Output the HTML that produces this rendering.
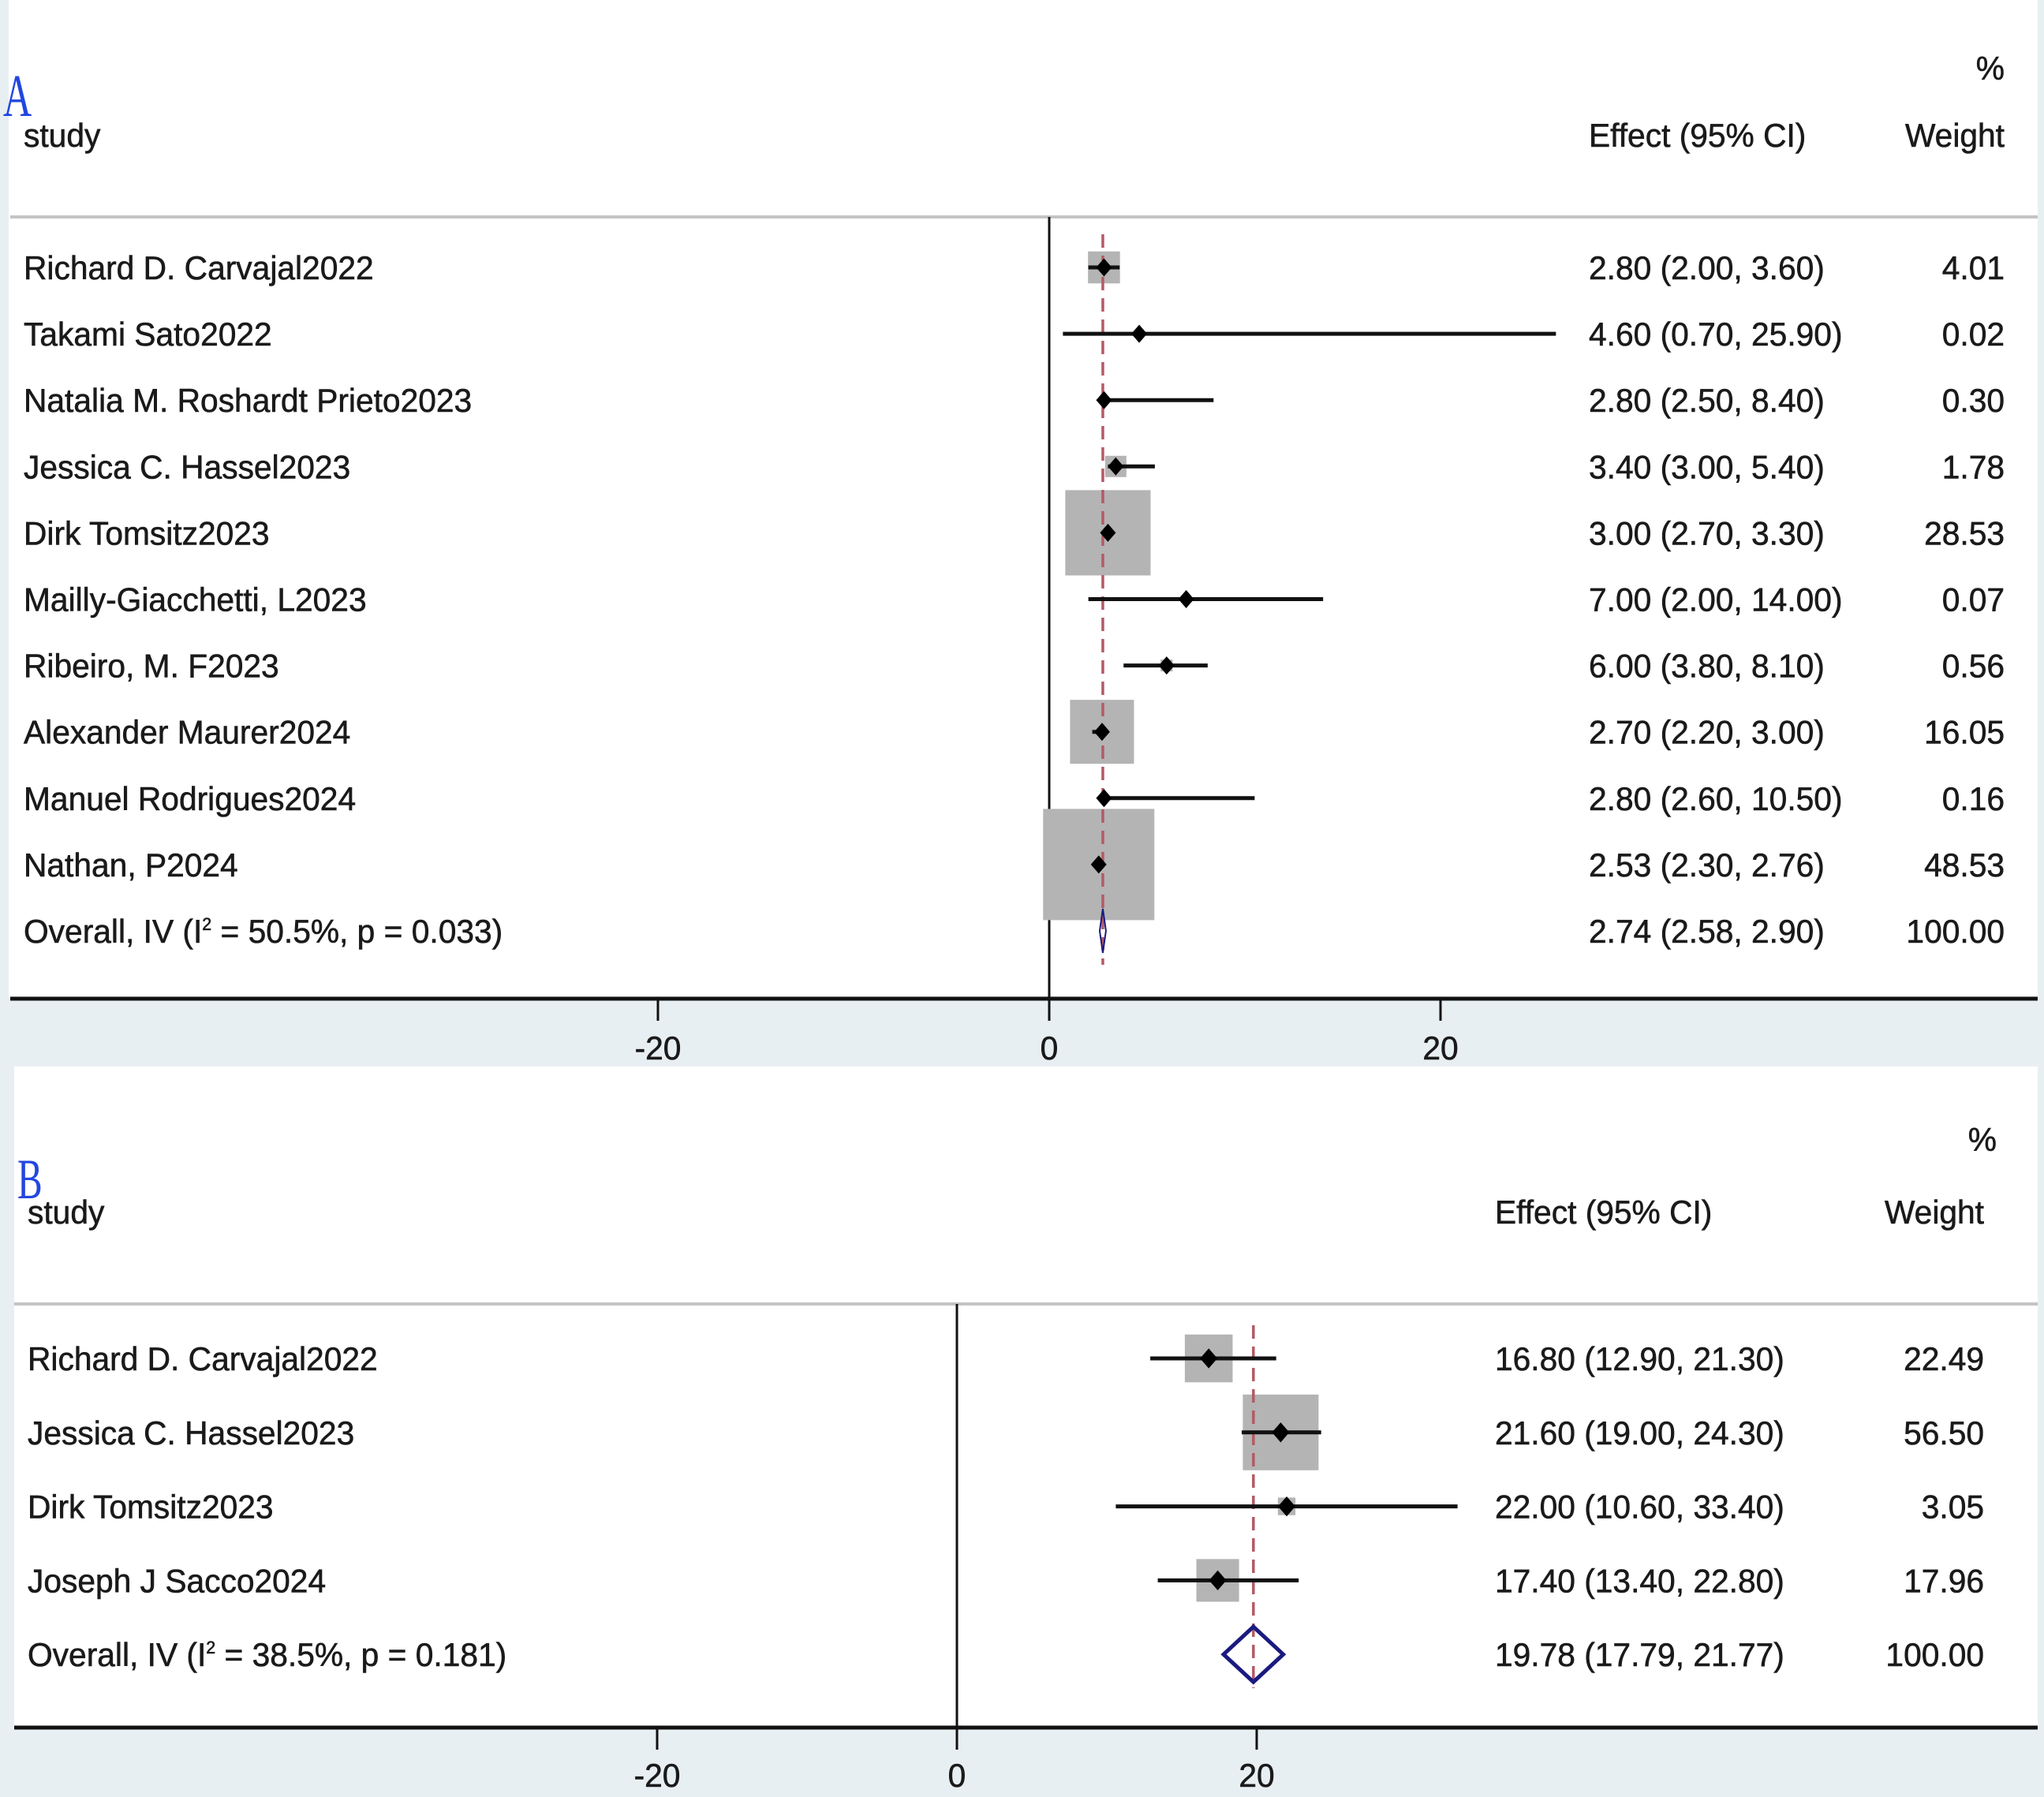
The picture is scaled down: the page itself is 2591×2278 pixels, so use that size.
<!DOCTYPE html>
<html><head><meta charset="utf-8">
<style>
html,body{margin:0;padding:0;background:#e8eff2;}
svg{display:block;}
text{font-family:"Liberation Sans",Arial,sans-serif;fill:#1a1a1a;}
</style></head>
<body>
<svg id="chart" width="2591" height="2278" viewBox="0 0 2591 2278" xmlns="http://www.w3.org/2000/svg">
<rect x="0" y="0" width="2591" height="2278" fill="#e8eff2"/>
<rect x="11" y="0" width="2572" height="1265" fill="#ffffff"/>
<rect x="18" y="1352" width="2565" height="837" fill="#ffffff"/>
<g id="gA"></g>
<g id="gB"></g>
</svg>
<script>
// ---- Panel A data ----
const studiesA = ["Richard D. Carvajal2022","Takami Sato2022","Natalia M. Roshardt Prieto2023","Jessica C. Hassel2023","Dirk Tomsitz2023","Mailly-Giacchetti, L2023","Ribeiro, M. F2023","Alexander Maurer2024","Manuel Rodrigues2024","Nathan, P2024"];
const effectA = [2.80,4.60,2.80,3.40,3.00,7.00,6.00,2.70,2.80,2.53];
const lowerA = [2.00,0.70,2.50,3.00,2.70,2.00,3.80,2.20,2.60,2.30];
const upperA = [3.60,25.90,8.40,5.40,3.30,14.00,8.10,3.00,10.50,2.76];
const weightA = [4.01,0.02,0.30,1.78,28.53,0.07,0.56,16.05,0.16,48.53];
const overallA = [2.74,2.58,2.90];
const overallLabelA = "Overall, IV (I² = 50.5%, p = 0.033)";
const ticksA = [-20,0,20];
// ---- Panel B data ----
const studiesB = ["Richard D. Carvajal2022","Jessica C. Hassel2023","Dirk Tomsitz2023","Joseph J Sacco2024"];
const effectB = [16.80,21.60,22.00,17.40];
const lowerB = [12.90,19.00,10.60,13.40];
const upperB = [21.30,24.30,33.40,22.80];
const weightB = [22.49,56.50,3.05,17.96];
const overallB = [19.78,17.79,21.77];
const overallLabelB = "Overall, IV (I² = 38.5%, p = 0.181)";
const ticksB = [-20,0,20];

const NS="http://www.w3.org/2000/svg";
function mk(parent,tag,attrs){const e=document.createElementNS(NS,tag);for(const k in attrs)e.setAttribute(k,attrs[k]);parent.appendChild(e);return e;}
function txt(parent,x,y,s,anchor,name,size){
  const t=mk(parent,"text",{x:0,y:0,"font-size":size||42,"text-anchor":anchor||"start",transform:`translate(${x},${y}) scale(0.97,1)`,stroke:"#1a1a1a","stroke-width":0.6});
  t.textContent=s;
  
  
  return t;
}
const f2=v=>v.toFixed(2);

function panel(g,cfg){
  const sx=v=>cfg.x0+v*cfg.ppu;
  const L=mk(g,"text",{x:0,y:0,"font-size":cfg.letterSize,transform:`translate(${cfg.letterX},${cfg.letterY}) scale(0.66,1)`,style:"font-family:'Liberation Serif',serif;fill:#2346e0"});
  L.textContent=cfg.letter;
  
  
  txt(g,cfg.leftX,cfg.headY,"study","start","study-header");
  txt(g,cfg.effX,cfg.headY,"Effect (95% CI)","start","effect-header");
  txt(g,cfg.wRight,cfg.headY,"Weight","end","weight-header");
  txt(g,cfg.pctRight,cfg.pctY,"%","end","percent-header");
  const hl=mk(g,"line",{x1:cfg.panelL,x2:cfg.panelR,y1:cfg.headLine,y2:cfg.headLine,stroke:"#c4c4c4","stroke-width":4});
  
  
  const zl=mk(g,"line",{x1:sx(0),x2:sx(0),y1:cfg.headLine,y2:cfg.axisY,stroke:"#111","stroke-width":3});
  
  
  const n=cfg.studies.length;
  for(let i=0;i<n;i++){
    const y=cfg.row0+i*cfg.step;
    const side=cfg.boxRef*Math.sqrt(cfg.w[i]/cfg.wRef);
    const b=mk(g,"rect",{x:sx(cfg.e[i])-side/2,y:y-side/2,width:side,height:side,fill:"#b4b4b4"});
    
    
  }
  const dl=mk(g,"line",{x1:sx(cfg.ov[0]),x2:sx(cfg.ov[0]),y1:cfg.dashTop,y2:cfg.dashBot,stroke:"#b35a64","stroke-width":3.5,"stroke-dasharray":"17 10"});
  
  
  for(let i=0;i<n;i++){
    const y=cfg.row0+i*cfg.step;
    const ci=mk(g,"line",{x1:sx(cfg.lo[i]),x2:sx(cfg.hi[i]),y1:y,y2:y,stroke:"#111","stroke-width":5});
    
    
    const cx=sx(cfg.e[i]),d=cfg.mk;
    const p=mk(g,"polygon",{points:`${cx-d},${y} ${cx},${y-d*1.15} ${cx+d},${y} ${cx},${y+d*1.15}`,fill:"#000"});
    
    
    txt(g,cfg.leftX,y+15,cfg.studies[i],"start","study-label");
    txt(g,cfg.effX,y+15,`${f2(cfg.e[i])} (${f2(cfg.lo[i])}, ${f2(cfg.hi[i])})`,"start","effect-ci-text");
    txt(g,cfg.wRight,y+15,f2(cfg.w[i]),"end","weight-text");
  }
  const oy=cfg.row0+n*cfg.step;
  const dh=cfg.diaH/2;
  const dia=mk(g,"polygon",{points:`${sx(cfg.ov[1])},${oy} ${sx(cfg.ov[0])},${oy-dh} ${sx(cfg.ov[2])},${oy} ${sx(cfg.ov[0])},${oy+dh}`,fill:"none",stroke:"#1a1a80","stroke-width":cfg.diaStroke});
  
  
  const ol=txt(g,cfg.leftX,oy+15,"","start","overall-label");
  const parts=cfg.ovLabel.split("²");
  const t1=mk(ol,"tspan",{});t1.textContent=parts[0];
  const t2=mk(ol,"tspan",{dy:-16,"font-size":22});t2.textContent="2";
  const t3=mk(ol,"tspan",{dy:16});t3.textContent=parts[1];
  txt(g,cfg.effX,oy+15,`${f2(cfg.ov[0])} (${f2(cfg.ov[1])}, ${f2(cfg.ov[2])})`,"start","overall-effect-text");
  txt(g,cfg.wRight,oy+15,"100.00","end","overall-weight-text");
  const ax=mk(g,"line",{x1:cfg.panelL,x2:cfg.panelR,y1:cfg.axisY,y2:cfg.axisY,stroke:"#111","stroke-width":5});
  
  
  cfg.ticks.forEach(t=>{
    const tk=mk(g,"line",{x1:sx(t),x2:sx(t),y1:cfg.axisY,y2:cfg.axisY+28,stroke:"#111","stroke-width":3});
    
    
    txt(g,sx(t),cfg.tickLabelY,String(t),"middle","x-tick-label");
  });
}

panel(document.getElementById("gA"),{
  studies:studiesA,e:effectA,lo:lowerA,hi:upperA,w:weightA,ov:overallA,ovLabel:overallLabelA,ticks:ticksA,
  x0:1330,ppu:24.8,row0:339,step:84.1,boxRef:141,wRef:48.53,mk:10,diaH:56,diaStroke:2,
  leftX:30,effX:2014,wRight:2541,pctRight:2541,pctY:101,headY:186,headLine:275,
  panelL:13,panelR:2583,axisY:1266,tickLabelY:1343,dashTop:297,dashBot:1223,
  letter:"A",letterSize:76,letterX:4,letterY:147
});
panel(document.getElementById("gB"),{
  studies:studiesB,e:effectB,lo:lowerB,hi:upperB,w:weightB,ov:overallB,ovLabel:overallLabelB,ticks:ticksB,
  x0:1213,ppu:19,row0:1722,step:93.8,boxRef:96,wRef:56.5,mk:11,diaH:70,diaStroke:5,
  leftX:35,effX:1895,wRight:2515,pctRight:2531,pctY:1459,headY:1551,headLine:1653,
  panelL:18,panelR:2583,axisY:2190,tickLabelY:2265,dashTop:1680,dashBot:2140,
  letter:"B",letterSize:72,letterX:22,letterY:1519
});
</script>
</body></html>
